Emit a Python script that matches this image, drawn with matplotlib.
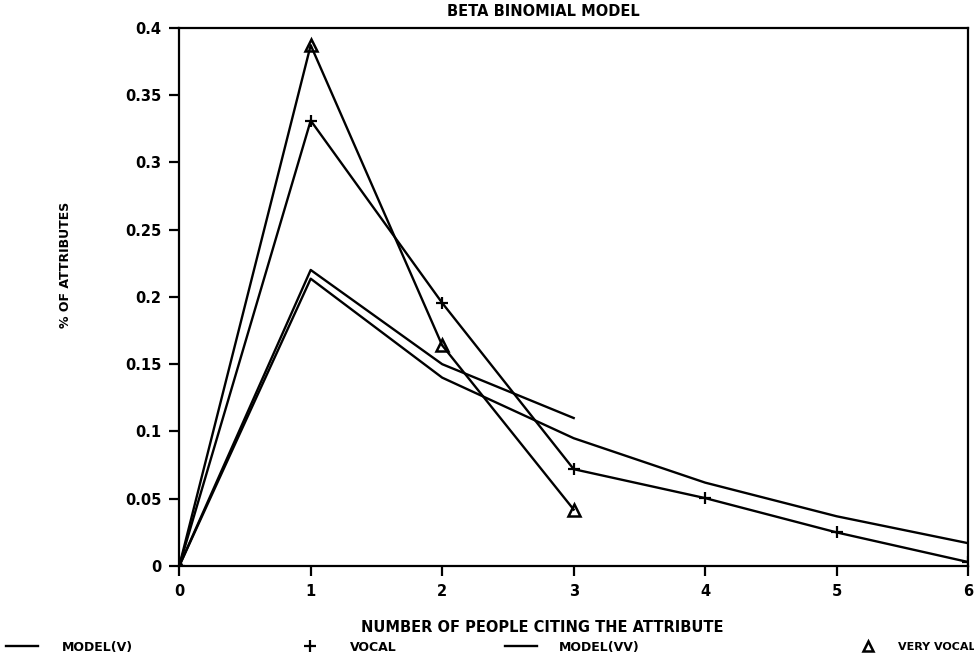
import matplotlib
matplotlib.use("Agg")
import matplotlib.pyplot as plt
from matplotlib.lines import Line2D

# data
people = [0, 1, 2, 3, 4, 5, 6]
model_v = [0, 0.2135, 0.140, 0.095, 0.062, 0.037, 0.017]
vocal = [0, 0.331, 0.1955, 0.072, 0.0505, 0.025, 0.003]
model_vv = [0, 0.220, 0.150, 0.110]
very_vocal = [0, 0.387, 0.164, 0.042]

x_ticks = [0, 1, 2, 3, 4, 5, 6]
y_ticks = [0, 0.05, 0.1, 0.15, 0.2, 0.25, 0.3, 0.35, 0.4]
y_labels = ["0", "0.05", "0.1", "0.15", "0.2", "0.25", "0.3", "0.35", "0.4"]

plt.rcParams['font.family'] = ['DejaVu Sans']
plt.rcParams['font.weight'] = 'bold'

fig = plt.figure(figsize=(9.74, 6.59), dpi=100)
ax = fig.add_axes([0.184, 0.141, 0.81, 0.817])

lw = 1.7
ax.plot(people, model_v, color='black', lw=lw)
ax.plot(people, vocal, color='black', lw=lw, marker='+', ms=9, mew=1.6)
ax.plot(people[:len(model_vv)], model_vv, color='black', lw=lw)
ax.plot(people[:len(very_vocal)], very_vocal, color='black', lw=lw,
        marker='^', ms=8, mfc='none', mew=1.8)

ax.set_xlim(0, 6)
ax.set_ylim(0, 0.4)
ax.set_xticks(x_ticks)
ax.set_yticks(y_ticks)
ax.set_yticklabels(y_labels)
ax.tick_params(axis='both', direction='out', length=7, width=1.6,
               labelsize=10.5, pad=6)
for s in ax.spines.values():
    s.set_linewidth(1.6)

# title, axis labels placed like the original plotter output
fig.text(0.558, 0.982, "BETA BINOMIAL MODEL", ha='center', va='center',
         fontsize=10.5, fontweight='bold')
fig.text(0.557, 0.048, "NUMBER OF PEOPLE CITING THE ATTRIBUTE",
         ha='center', va='center', fontsize=10.5, fontweight='bold')
fig.text(0.067, 0.598, "% OF ATTRIBUTES", rotation=90, ha='center',
         va='center', fontsize=9, fontweight='bold')

# legend row along the bottom, one entry at a time
entries = [
    (Line2D([], [], color='black', lw=lw), "MODEL(V)", 0.006, 1.85, 9),
    (Line2D([], [], color='black', ls='none', marker='+', ms=9, mew=1.6),
     "VOCAL", 0.302, 1.9, 9),
    (Line2D([], [], color='black', lw=lw), "MODEL(VV)", 0.518, 1.75, 9),
    (Line2D([], [], color='black', ls='none', marker='^', ms=7, mfc='none',
            mew=1.8), "VERY VOCAL", 0.876, 1.4, 8),
]
for handle, label, xpos, pad, size in entries:
    fig.legend([handle], [label], loc='center left',
               bbox_to_anchor=(xpos, 0.018), frameon=False,
               handlelength=2.6, handletextpad=pad, borderaxespad=0,
               borderpad=0, prop={'size': size, 'weight': 'bold'})

fig.savefig("out.png", dpi=100)
